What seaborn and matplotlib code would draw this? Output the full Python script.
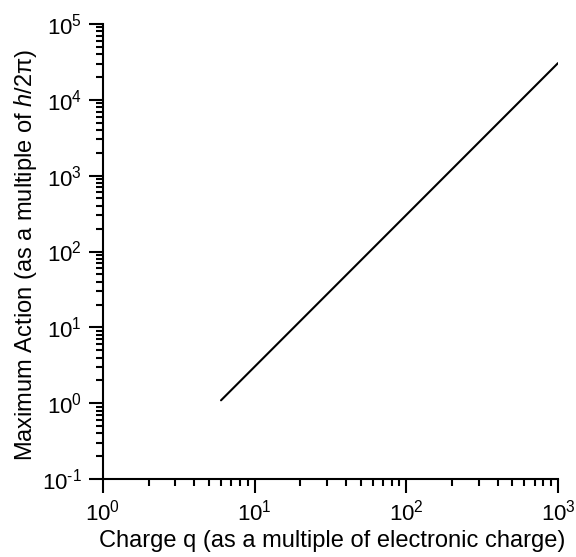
import matplotlib
matplotlib.use("Agg")
import matplotlib.pyplot as plt
import matplotlib.ticker as mticker
import seaborn as sns
import pandas as pd
import numpy as np

# Data (straight line on log-log axes)
charge_q = [6.0, 1000.0]
max_action = [1.09, 30500.0]

x_limits = [1, 1000]
y_limits = [0.1, 1e5]

sns.set_style("ticks")
plt.rcParams['font.family'] = ['Liberation Sans', 'DejaVu Sans']
plt.rcParams['mathtext.fontset'] = 'custom'
plt.rcParams['mathtext.rm'] = 'Liberation Sans'
plt.rcParams['mathtext.it'] = 'Liberation Sans:italic'
plt.rcParams['mathtext.bf'] = 'Liberation Sans:bold'

fig = plt.figure(figsize=(5.76, 5.57), dpi=100)
ax = fig.add_axes([103/576, 1-479/557, (558-103)/576, (479-24)/557])

df = pd.DataFrame({"q": charge_q, "A": max_action})
sns.lineplot(data=df, x="q", y="A", color="black", linewidth=1.5, ax=ax)

ax.set_xscale("log")
ax.set_yscale("log")
ax.set_xlim(*x_limits)
ax.set_ylim(*y_limits)


def pow_fmt(v, pos):
    e = int(round(np.log10(v)))
    es = r"\text{-}%d" % (-e) if e < 0 else "%d" % e
    return r"$10^{%s}$" % es


ax.xaxis.set_major_locator(mticker.LogLocator(base=10, numticks=10))
ax.yaxis.set_major_locator(mticker.LogLocator(base=10, numticks=10))
ax.xaxis.set_minor_locator(mticker.LogLocator(base=10, subs=range(2, 10), numticks=20))
ax.yaxis.set_minor_locator(mticker.LogLocator(base=10, subs=range(2, 10), numticks=20))
ax.xaxis.set_major_formatter(mticker.FuncFormatter(pow_fmt))
ax.yaxis.set_major_formatter(mticker.FuncFormatter(pow_fmt))
ax.xaxis.set_minor_formatter(mticker.NullFormatter())
ax.yaxis.set_minor_formatter(mticker.NullFormatter())

for s in ["top", "right"]:
    ax.spines[s].set_visible(False)
for s in ["left", "bottom"]:
    ax.spines[s].set_linewidth(1.5)
    ax.spines[s].set_color("black")

ax.tick_params(which="major", direction="out", length=10, width=1.5, labelsize=16, colors="black", pad=5)
ax.tick_params(which="minor", direction="out", length=5, width=1.5, colors="black")

ax.set_xlabel("Charge q (as a multiple of electronic charge)", fontsize=17, color="black")
ax.set_ylabel(r"Maximum Action (as a multiple of $\it{h}$/2π)", fontsize=17, color="black")
ax.xaxis.set_label_coords(0.503, -0.137)
ax.yaxis.set_label_coords(-0.171, 0.492)
ax.xaxis.label.set_verticalalignment("center")
ax.yaxis.label.set_verticalalignment("center")

fig.savefig("out.png", dpi=100)
